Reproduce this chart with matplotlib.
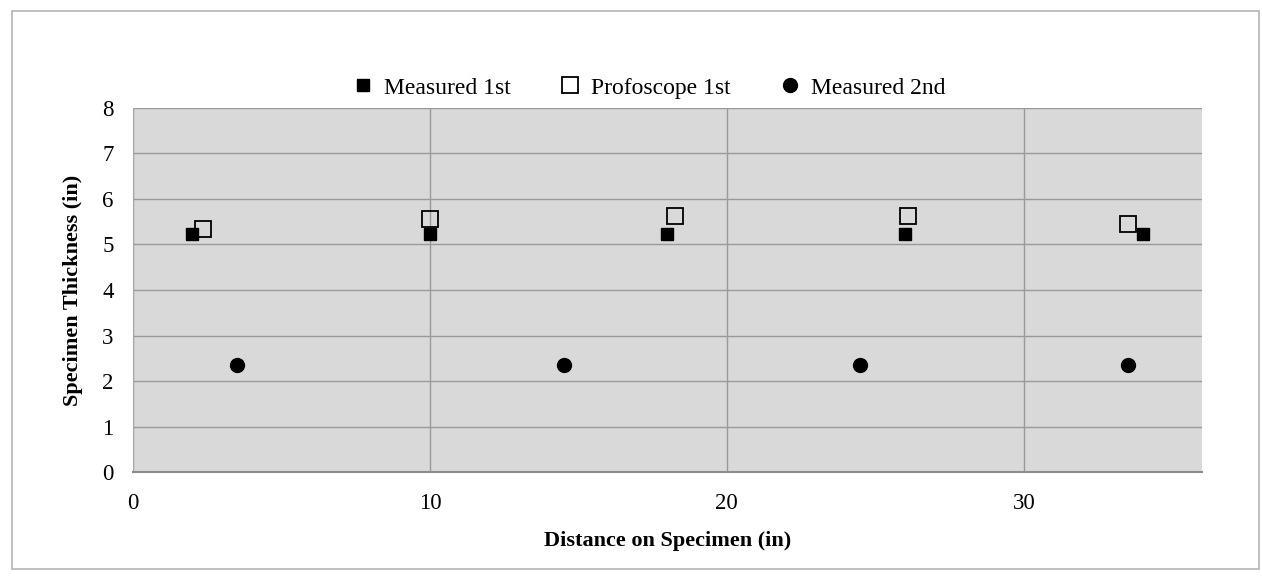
import matplotlib.pyplot as plt
from matplotlib.patches import Rectangle

# data
measured1_x = [2.0, 10.0, 18.0, 26.0, 34.0]
measured1_y = [5.22, 5.22, 5.22, 5.22, 5.22]

profoscope1_x = [2.35, 10.0, 18.25, 26.1, 33.5]
profoscope1_y = [5.33, 5.55, 5.62, 5.62, 5.46]

measured2_x = [3.5, 14.5, 24.5, 33.5]
measured2_y = [2.35, 2.35, 2.35, 2.35]

x_ticks = [0, 10, 20, 30]
y_ticks = [0, 1, 2, 3, 4, 5, 6, 7, 8]

plt.rcParams['font.family'] = ['Liberation Serif', 'DejaVu Serif']

fig = plt.figure(figsize=(12.62, 5.8), dpi=100)
ax = fig.add_axes([0.1054, 0.1862, 0.847, 0.6276])
ax.set_facecolor('#d9d9d9')

# outer chart border
fig.patches.append(Rectangle((0.0095, 0.019), 0.988, 0.962, transform=fig.transFigure,
                             fill=False, edgecolor='#b4b4b4', linewidth=1.2))

ax.plot(profoscope1_x, profoscope1_y, linestyle='none', marker='s', markersize=11,
        markerfacecolor='none', markeredgecolor='black', markeredgewidth=1.3,
        label='Profoscope 1st', zorder=3)
ax.plot(measured1_x, measured1_y, linestyle='none', marker='s', markersize=9,
        color='black', label='Measured 1st', zorder=4)
ax.plot(measured2_x, measured2_y, linestyle='none', marker='o', markersize=10,
        color='black', label='Measured 2nd', zorder=4)

ax.set_xlim(0, 36)
ax.set_ylim(0, 8)
ax.set_xticks(x_ticks)
ax.set_yticks(y_ticks)
ax.tick_params(axis='both', length=0, labelsize=16.5)
ax.tick_params(axis='x', pad=15)
ax.tick_params(axis='y', pad=14)

ax.grid(True, color='#9a9a9a', linewidth=1.0)
ax.set_axisbelow(True)
for side in ['top', 'right']:
    ax.spines[side].set_visible(False)
ax.spines['left'].set_color('#a8a8a8')
ax.spines['bottom'].set_color('#8c8c8c')
ax.spines['bottom'].set_linewidth(1.5)

ax.set_xlabel('Distance on Specimen (in)', fontsize=16, fontweight='bold', labelpad=12)
ax.set_ylabel('Specimen Thickness (in)', fontsize=16, fontweight='bold', labelpad=14)

handles, labels = ax.get_legend_handles_labels()
order = [1, 0, 2]
ax.legend([handles[i] for i in order], [labels[i] for i in order],
          loc='center', bbox_to_anchor=(0.483, 1.055), ncol=3, frameon=False,
          fontsize=17, handlelength=0.8, handletextpad=0.5, columnspacing=2.1,
          borderaxespad=0, borderpad=0)

fig.savefig('out.png', dpi=100)
